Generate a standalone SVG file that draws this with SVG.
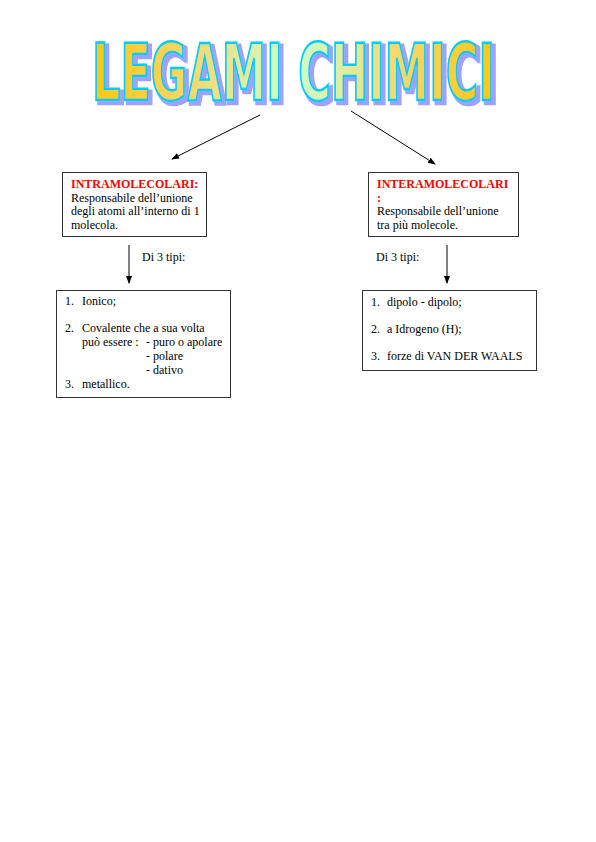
<svg xmlns="http://www.w3.org/2000/svg" width="596" height="842" viewBox="0 0 596 842">
<style>
.box{fill:#fff;stroke:#333;stroke-width:1}
.t{font-family:"Liberation Serif","Times New Roman",serif;font-size:12px;fill:#000}
.red{fill:#ff0000;font-weight:bold}
.conn{stroke:#000;stroke-width:1;fill:none}
.title{font-family:"DejaVu Sans","Liberation Sans",sans-serif;font-weight:bold;font-size:78px;font-stretch:condensed}
</style>
<defs>
<linearGradient id="tg" gradientUnits="userSpaceOnUse" x1="92" y1="0" x2="497" y2="0">
<stop offset="0" stop-color="#ffc60f"/>
<stop offset="0.25" stop-color="#f5d870"/>
<stop offset="0.5" stop-color="#ccffcc"/>
<stop offset="0.75" stop-color="#f5d870"/>
<stop offset="1" stop-color="#ffc60f"/>
</linearGradient>
<filter id="sh" x="-10%" y="-30%" width="125%" height="170%">
<feMorphology in="SourceAlpha" operator="dilate" radius="0.5" result="d"/>
<feOffset in="d" dx="3" dy="3" result="o"/>
<feFlood flood-color="#a0a0ff"/>
<feComposite in2="o" operator="in" result="s"/>
<feMerge><feMergeNode in="s"/><feMergeNode in="SourceGraphic"/></feMerge>
</filter>
<marker id="ah" markerWidth="8" markerHeight="8" refX="7" refY="4" orient="auto" markerUnits="userSpaceOnUse">
<path d="M0,1 L8,4 L0,7 Z" fill="#000"/>
</marker>
</defs>
<rect width="596" height="842" fill="#fff"/>
<g id="title" filter="url(#sh)">
<text class="title" fill="url(#tg)" stroke="#00ccff" stroke-width="2.5" x="92" y="100" textLength="403" lengthAdjust="spacingAndGlyphs">LEGAMI CHIMICI</text>
</g>
<g id="connectors">
<line class="conn" x1="260" y1="115" x2="172" y2="159" marker-end="url(#ah)"/>
<line class="conn" x1="351" y1="111" x2="435" y2="164" marker-end="url(#ah)"/>
<line class="conn" x1="129" y1="245" x2="129" y2="283" marker-end="url(#ah)"/>
<line class="conn" x1="447" y1="245" x2="447" y2="283" marker-end="url(#ah)"/>
</g>
<g id="intra">
<rect class="box" x="62.5" y="172.5" width="144" height="64"/>
<text class="t red" x="71" y="188">INTRAMOLECOLARI:</text>
<text class="t" x="71" y="201.5">Responsabile dell’unione</text>
<text class="t" x="71" y="215">degli atomi all’interno di 1</text>
<text class="t" x="71" y="228.5">molecola.</text>
</g>
<g id="inter">
<rect class="box" x="368.5" y="172.5" width="150" height="64"/>
<text class="t red" x="377" y="188">INTERAMOLECOLARI</text>
<text class="t red" x="377" y="201.5">:</text>
<text class="t" x="377" y="215">Responsabile dell’unione</text>
<text class="t" x="377" y="228.5">tra più molecole.</text>
</g>
<g id="label-left">
<text class="t" x="142" y="261">Di 3 tipi:</text>
</g>
<g id="label-right">
<text class="t" x="376" y="261">Di 3 tipi:</text>
</g>
<g id="intra-list">
<rect class="box" x="56.5" y="290.5" width="174" height="107"/>
<text class="t" x="65" y="305">1.</text>
<text class="t" x="82" y="305">Ionico;</text>
<text class="t" x="65" y="332">2.</text>
<text class="t" x="82" y="332">Covalente che a sua volta</text>
<text class="t" x="82" y="346">può essere :</text>
<text class="t" x="146" y="346">- puro o apolare</text>
<text class="t" x="146" y="360">- polare</text>
<text class="t" x="146" y="374">- dativo</text>
<text class="t" x="65" y="388">3.</text>
<text class="t" x="82" y="388">metallico.</text>
</g>
<g id="inter-list">
<rect class="box" x="362.5" y="290.5" width="174" height="80"/>
<text class="t" x="371" y="306">1.</text>
<text class="t" x="387" y="306">dipolo - dipolo;</text>
<text class="t" x="371" y="333">2.</text>
<text class="t" x="387" y="333">a Idrogeno (H);</text>
<text class="t" x="371" y="360">3.</text>
<text class="t" x="387" y="360">forze di VAN DER WAALS</text>
</g>
</svg>
